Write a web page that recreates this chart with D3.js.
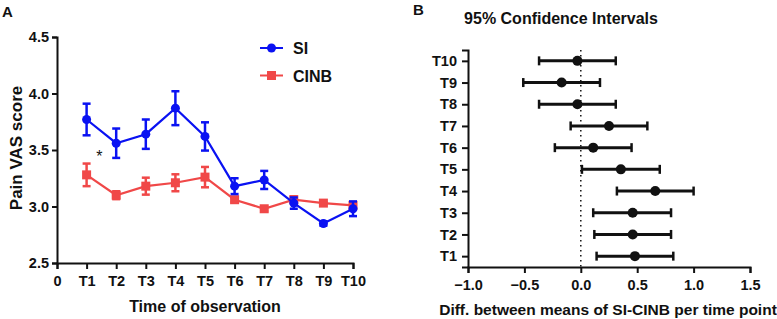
<!DOCTYPE html>
<html>
<head>
<meta charset="utf-8">
<script src="https://cdn.jsdelivr.net/npm/d3@7"></script>
<style>
  body { margin: 0; background: #fff; }
  text { font-family: "Liberation Sans", Arial, sans-serif; font-weight: bold; fill: #111; }
  .axis path, .axis line { stroke: #111; stroke-width: 2; }
  .axis text { font-size: 14.5px; }
</style>
</head>
<body>
<div id="chart"></div>
<script>
// Panel A data
const timePoints = ["T1", "T2", "T3", "T4", "T5", "T6", "T7", "T8", "T9", "T10"];
const siMean = [3.77, 3.56, 3.64, 3.87, 3.62, 3.18, 3.235, 3.03, 2.85, 2.98];
const siErr = [0.14, 0.13, 0.13, 0.15, 0.125, 0.07, 0.08, 0.05, 0.02, 0.065];
const cinbMean = [3.28, 3.10, 3.18, 3.21, 3.26, 3.06, 2.98, 3.06, 3.03, 3.01];
const cinbErr = [0.10, 0.035, 0.075, 0.075, 0.09, 0.02, 0.02, 0.03, 0.01, 0.01];
const yTicksA = [2.5, 3.0, 3.5, 4.0, 4.5];

// Panel B data (SI - CINB, 95% CI)
const ciLabels = ["T10", "T9", "T8", "T7", "T6", "T5", "T4", "T3", "T2", "T1"];
const ciMean = [-0.03, -0.17, -0.03, 0.25, 0.11, 0.355, 0.66, 0.46, 0.46, 0.48];
const ciLow = [-0.37, -0.51, -0.37, -0.09, -0.23, 0.01, 0.32, 0.11, 0.12, 0.14];
const ciHigh = [0.31, 0.17, 0.31, 0.59, 0.45, 0.70, 1.00, 0.80, 0.80, 0.82];
const xTicksB = [-1.0, -0.5, 0.0, 0.5, 1.0, 1.5];

const blue = "#0a12f2";
const red = "#f04848";

const svg = d3.select("#chart")
  .append("svg")
  .attr("width", 777)
  .attr("height", 319);

// ---------- Panel A ----------
const a = { left: 57, right: 353, top: 37, bottom: 263 };

const xA = d3.scaleLinear().domain([0, 10]).range([a.left, a.right]);
const yA = d3.scaleLinear().domain([2.5, 4.5]).range([a.bottom, a.top]);

svg.append("g")
  .attr("class", "axis")
  .attr("transform", `translate(0,${a.bottom})`)
  .call(d3.axisBottom(xA)
    .tickValues(d3.range(0, 11))
    .tickFormat(d => d === 0 ? "0" : timePoints[d - 1])
    .tickSizeOuter(0).tickSize(6).tickPadding(7));

svg.append("g")
  .attr("class", "axis")
  .attr("transform", `translate(${a.left},0)`)
  .call(d3.axisLeft(yA)
    .tickValues(yTicksA)
    .tickFormat(d3.format(".1f"))
    .tickSizeOuter(0).tickSize(5).tickPadding(3));

svg.append("text")
  .attr("x", (a.left + a.right) / 2)
  .attr("y", 312)
  .attr("text-anchor", "middle")
  .style("font-size", "16px")
  .text("Time of observation");

svg.append("text")
  .attr("transform", "translate(22,148) rotate(-90)")
  .attr("text-anchor", "middle")
  .style("font-size", "17px")
  .text("Pain VAS score");

svg.append("text")
  .attr("x", 2).attr("y", 17)
  .style("font-size", "15px")
  .text("A");

function drawSeries(means, errs, color, shape) {
  const pts = means.map((m, i) => ({ x: i + 1, m, e: errs[i] }));
  const line = d3.line().x(d => xA(d.x)).y(d => yA(d.m));
  const g = svg.append("g");
  g.append("path")
    .datum(pts)
    .attr("d", line)
    .attr("fill", "none")
    .attr("stroke", color)
    .attr("stroke-width", 2.2);
  const eb = g.selectAll(".eb").data(pts).join("g");
  eb.append("line")
    .attr("x1", d => xA(d.x)).attr("x2", d => xA(d.x))
    .attr("y1", d => yA(d.m - d.e)).attr("y2", d => yA(d.m + d.e))
    .attr("stroke", color).attr("stroke-width", 2.5);
  [1, -1].forEach(s => {
    eb.append("line")
      .attr("x1", d => xA(d.x) - 4).attr("x2", d => xA(d.x) + 4)
      .attr("y1", d => yA(d.m + s * d.e)).attr("y2", d => yA(d.m + s * d.e))
      .attr("stroke", color).attr("stroke-width", 2.5);
  });
  if (shape === "circle") {
    eb.append("circle")
      .attr("cx", d => xA(d.x)).attr("cy", d => yA(d.m))
      .attr("r", 4.5).attr("fill", color);
  } else {
    eb.append("rect")
      .attr("x", d => xA(d.x) - 4.5).attr("y", d => yA(d.m) - 4.5)
      .attr("width", 9).attr("height", 9).attr("fill", color);
  }
}

drawSeries(cinbMean, cinbErr, red, "square");
drawSeries(siMean, siErr, blue, "circle");

svg.append("text")
  .attr("x", xA(1.43)).attr("y", 162)
  .attr("text-anchor", "middle")
  .style("font-size", "16px")
  .style("font-weight", "normal")
  .text("*");

// legend
const legend = [
  { name: "SI", color: blue, shape: "circle", y: 48 },
  { name: "CINB", color: red, shape: "square", y: 75.5 }
];
const lg = svg.append("g").selectAll("g").data(legend).join("g");
lg.append("line")
  .attr("x1", 260).attr("x2", 283)
  .attr("y1", d => d.y).attr("y2", d => d.y)
  .attr("stroke", d => d.color).attr("stroke-width", 2);
lg.filter(d => d.shape === "circle").append("circle")
  .attr("cx", 271.5).attr("cy", d => d.y).attr("r", 4.5)
  .attr("fill", d => d.color);
lg.filter(d => d.shape === "square").append("rect")
  .attr("x", 267).attr("y", d => d.y - 4.5)
  .attr("width", 9).attr("height", 9)
  .attr("fill", d => d.color);
lg.append("text")
  .attr("x", 293).attr("y", d => d.y + 6)
  .style("font-size", "16px")
  .text(d => d.name);

// ---------- Panel B ----------
const b = { left: 468, right: 750, top: 50, bottom: 267 };

const xB = d3.scaleLinear().domain([-1, 1.5]).range([b.left, b.right]);
const yB = d3.scalePoint().domain(ciLabels).range([b.top, b.bottom]).padding(0.5);

svg.append("g")
  .attr("class", "axis")
  .attr("transform", `translate(0,${b.bottom})`)
  .call(d3.axisBottom(xB)
    .tickValues(xTicksB)
    .tickFormat(d3.format(".1f"))
    .tickSizeOuter(0).tickSize(6).tickPadding(7));

svg.append("g")
  .attr("class", "axis")
  .attr("transform", `translate(${b.left},0)`)
  .call(d3.axisLeft(yB)
    .tickSizeOuter(0).tickSize(6).tickPadding(5));

svg.append("line")
  .attr("x1", xB(0)).attr("x2", xB(0))
  .attr("y1", b.top).attr("y2", b.bottom)
  .attr("stroke", "#111")
  .attr("stroke-width", 1.5)
  .attr("stroke-dasharray", "1.5,3.5");

const ci = ciLabels.map((t, i) => ({ t, m: ciMean[i], lo: ciLow[i], hi: ciHigh[i] }));
const cg = svg.append("g").selectAll("g").data(ci).join("g");
cg.append("line")
  .attr("x1", d => xB(d.lo)).attr("x2", d => xB(d.hi))
  .attr("y1", d => yB(d.t)).attr("y2", d => yB(d.t))
  .attr("stroke", "#111").attr("stroke-width", 3);
["lo", "hi"].forEach(k => {
  cg.append("line")
    .attr("x1", d => xB(d[k])).attr("x2", d => xB(d[k]))
    .attr("y1", d => yB(d.t) - 4.5).attr("y2", d => yB(d.t) + 4.5)
    .attr("stroke", "#111").attr("stroke-width", 2.5);
});
cg.append("circle")
  .attr("cx", d => xB(d.m)).attr("cy", d => yB(d.t))
  .attr("r", 5).attr("fill", "#111");

svg.append("text")
  .attr("x", 561).attr("y", 24)
  .attr("text-anchor", "middle")
  .style("font-size", "16px")
  .text("95% Confidence Intervals");

svg.append("text")
  .attr("x", 608).attr("y", 315)
  .attr("text-anchor", "middle")
  .style("font-size", "15.5px")
  .text("Diff. between means of SI-CINB per time point");

svg.append("text")
  .attr("x", 413).attr("y", 15)
  .style("font-size", "15px")
  .text("B");
</script>
</body>
</html>
